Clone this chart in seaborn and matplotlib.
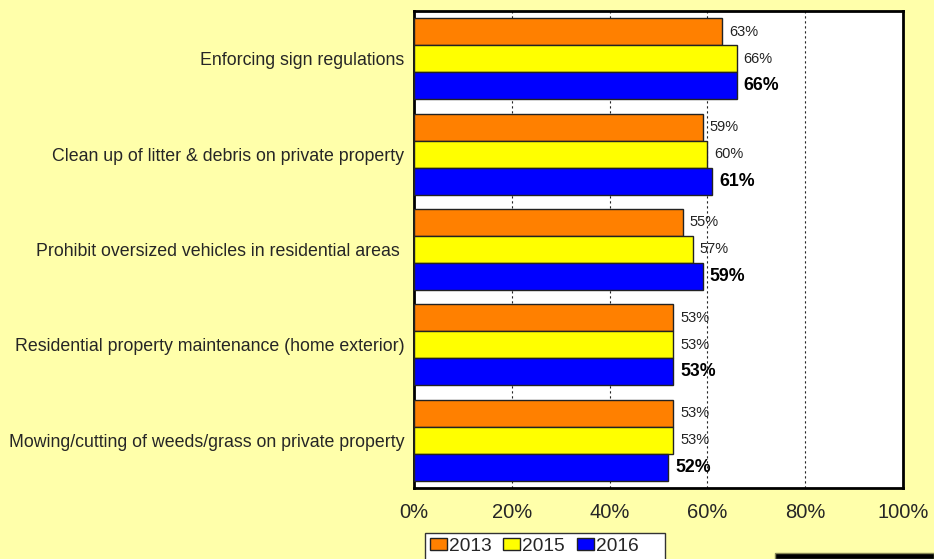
import pandas as pd
import numpy as np
import matplotlib
matplotlib.use("Agg")
import matplotlib.pyplot as plt
from matplotlib.patches import Rectangle
import seaborn as sns

# Veriler
categories = [
    "Enforcing sign regulations",
    "Clean up of litter & debris on private property",
    "Prohibit oversized vehicles in residential areas ",
    "Residential property maintenance (home exterior)",
    "Mowing/cutting of weeds/grass on private property",
]
years = ["2013", "2015", "2016"]
vals_2013 = [63, 59, 55, 53, 53]
vals_2015 = [66, 60, 57, 53, 53]
vals_2016 = [66, 61, 59, 53, 52]
colors = ["#FF8000", "#FFFF00", "#0000FF"]

# Uzun formatta tablo
df = pd.DataFrame({
    "Item": categories * 3,
    "Year": [y for y in years for _ in categories],
    "Value": vals_2013 + vals_2015 + vals_2016,
})

sns.set_style("white")
plt.rcParams["font.family"] = ["Liberation Sans", "DejaVu Sans"]

bg = "#FFFFAA"
fig = plt.figure(figsize=(9.34, 5.59), dpi=100, facecolor=bg)
ax = fig.add_axes([414 / 934, 1 - 488 / 559, 489 / 934, 477 / 559])
ax.set_facecolor("white")

sns.barplot(data=df, y="Item", x="Value", hue="Year", orient="h",
            palette=colors, saturation=1, width=0.85, order=categories,
            edgecolor="#222222", linewidth=1, ax=ax, legend=False, zorder=3)

# Değer etiketleri
for i, cont in enumerate(ax.containers):
    labels = [f"{int(round(b.get_width()))}%" for b in cont]
    if i == 2:
        ax.bar_label(cont, labels=labels, padding=5, fontsize=12.8,
                     fontweight="bold", color="black")
    else:
        ax.bar_label(cont, labels=labels, padding=5, fontsize=10.5,
                     color="#222222")

ax.set_xlim(0, 100)
ax.set_xticks(np.arange(0, 101, 20))
ax.set_xticklabels([f"{t}%" for t in range(0, 101, 20)], fontsize=14.5)
ax.tick_params(axis="x", length=0, pad=11)
ax.tick_params(axis="y", length=0, pad=7, labelsize=12.8)
ax.set_xlabel("")
ax.set_ylabel("")

ax.xaxis.grid(True, color="#222222", linestyle=(0, (2, 2.5)), linewidth=0.8)
ax.set_axisbelow(True)
for s in ax.spines.values():
    s.set_visible(True)
    s.set_color("black")
    s.set_linewidth(2)

# Lejant
handles = [Rectangle((0, 0), 1, 1, facecolor=c, edgecolor="#222222", lw=1)
           for c in colors]
leg_labels = ["2013", "2015", "2016    "]
fig.legend(handles, leg_labels, loc="upper left",
           bbox_to_anchor=(425 / 934, 1 - 533 / 559), ncol=3,
           fontsize=13.8, frameon=True, fancybox=False, edgecolor="#333333",
           framealpha=1, handlelength=0.9, handleheight=0.6,
           handletextpad=0.1, columnspacing=0.6, borderpad=0.25,
           borderaxespad=0)

# Sağ alttaki siyah şerit
fig.patches.append(Rectangle((775 / 934, 0), 1 - 775 / 934, 6 / 559,
                             transform=fig.transFigure, facecolor="black",
                             edgecolor="#888855", lw=1))

fig.savefig("out.png", dpi=100, facecolor=bg)
